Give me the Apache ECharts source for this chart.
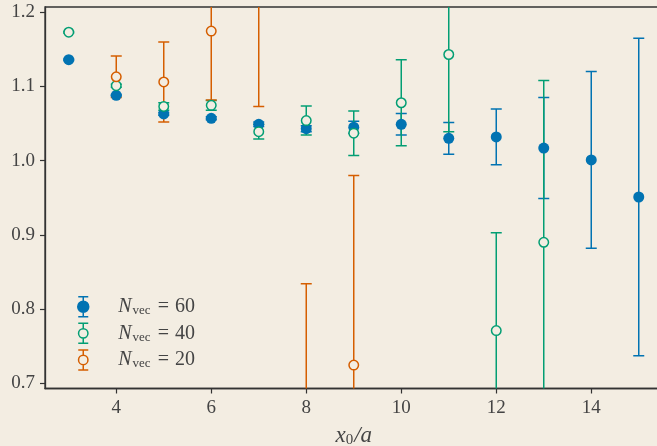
<!DOCTYPE html>
<html>
<head>
<meta charset="utf-8">
<script src="https://cdn.jsdelivr.net/npm/echarts@6/dist/echarts.min.js"></script>
<style>html,body{margin:0;padding:0;background:#f3ede2;overflow:hidden;width:657px;height:446px;}#c{width:663px;height:446px;}</style>
</head>
<body>
<div id="c"></div>
<script>
// x0/a values, effective mass values and errors
const x60 = [3,4,5,6,7,8,9,10,11,12,13,14,15];
const y60 = [1.136,1.088,1.063,1.057,1.049,1.043,1.045,1.049,1.030,1.032,1.017,1.001,0.951];
const e60 = [0.001,0.001,0.002,0.002,0.003,0.004,0.008,0.0145,0.0215,0.0375,0.068,0.119,0.214];

const x40 = [3,4,5,6,7,8,9,10,11,12,13];
const y40 = [1.173,1.101,1.073,1.0745,1.039,1.054,1.037,1.078,1.143,0.771,0.890];
const e40 = [0.001,0.002,0.005,0.0065,0.010,0.0195,0.030,0.058,0.104,0.132,0.218];

const x20 = [4,5,6,7,8,9];
const y20 = [1.113,1.106,1.1746,1.26,0.62,0.7245];
const e20 = [0.028,0.054,0.093,0.187,0.214,0.2555];

const xTicks = [4,6,8,10,12,14];
const yTicks = [0.7,0.8,0.9,1.0,1.1,1.2];

const BG = '#f3ede2';
const C60 = '#0173b2', C40 = '#029e73', C20 = '#d55e00';
const SERIF = '"Liberation Serif","DejaVu Serif",serif';
const TXT = '#444';

function zip(xs, ys, es){ return xs.map((x,i)=>[x, ys[i], es[i]]); }

function errRender(color){
  return function(params, api){
    const x = api.value(0), y = api.value(1), e = api.value(2);
    const t = api.coord([x, y + e]), b = api.coord([x, y - e]);
    const cw = 5.5;
    const st = {stroke: color, lineWidth: 1.5};
    return {type:'group', children:[
      {type:'line', shape:{x1:t[0], y1:t[1], x2:b[0], y2:b[1]}, style:st},
      {type:'line', shape:{x1:t[0]-cw, y1:t[1], x2:t[0]+cw, y2:t[1]}, style:st},
      {type:'line', shape:{x1:b[0]-cw, y1:b[1], x2:b[0]+cw, y2:b[1]}, style:st}
    ]};
  };
}

const N60 = 'Nvec = 60', N40 = 'Nvec = 40', N20 = 'Nvec = 20';
const iconFilled = 'path://M0 0L10 0M5 0L5 20M0 20L10 20M10.5 10A5.5 5.5 0 1 1 -0.5 10A5.5 5.5 0 1 1 10.5 10Z';
const iconOpen = 'path://M0 0L10 0M5 0L5 5.3M5 14.7L5 20M0 20L10 20M9.7 10A4.7 4.7 0 1 1 0.3 10A4.7 4.7 0 1 1 9.7 10Z';

function errSeries(name, data, color){
  return {type:'custom', name:name, data:data, encode:{x:0,y:1}, clip:true,
    renderItem: errRender(color), silent:true, z:2};
}
function ptSeries(name, data, color, filled){
  return {type:'scatter', name:name, data:data.map(d=>[d[0],d[1]]), clip:true, z:3,
    symbol:'circle', symbolSize: filled ? 11 : 9.5,
    itemStyle: filled ? {color:color, opacity:1} : {color:BG, borderColor:color, borderWidth:1.5, opacity:1}};
}

const d60 = zip(x60,y60,e60), d40 = zip(x40,y40,e40), d20 = zip(x20,y20,e20);

const chart = echarts.init(document.getElementById('c'), null, {renderer:'canvas'});
chart.setOption({
  backgroundColor: BG,
  animation: false,
  grid: {left:45, top:7, right:0.5, bottom:57.5, outerBoundsMode:'none', containLabel:false,
    show:true, borderColor:'#333', borderWidth:1.3, backgroundColor:BG},
  xAxis: {
    type:'value', min:2.5, max:15.5,
    name:'{i|x}{s|0}{i|/a}', nameLocation:'middle', nameGap:35,
    nameTextStyle:{rich:{
      i:{fontFamily:SERIF, fontStyle:'italic', fontSize:23, color:TXT},
      s:{fontFamily:SERIF, fontSize:15, color:TXT, padding:[9,1,0,0]}
    }},
    splitLine:{show:false},
    axisLine:{show:true, lineStyle:{color:'#333', width:1.3}},
    axisTick:{show:true, length:5, customValues:xTicks, lineStyle:{color:'#333', width:1.2}},
    axisLabel:{customValues:xTicks, fontFamily:SERIF, fontSize:19, color:TXT, margin:10}
  },
  yAxis: {
    type:'value', min:0.693, max:1.207,
    splitLine:{show:false},
    axisLine:{show:true, lineStyle:{color:'#333', width:1.3}},
    axisTick:{show:true, length:5, customValues:yTicks, lineStyle:{color:'#333', width:1.2}},
    axisLabel:{customValues:yTicks, fontFamily:SERIF, fontSize:19, color:TXT, margin:10,
      formatter:v=>v.toFixed(1)}
  },
  legend: {
    orient:'vertical', left:72, top:291, itemWidth:60, itemHeight:20, itemGap:5.1,
    selectedMode:false,
    data:[
      {name:N60, icon:iconFilled, itemStyle:{color:C60, borderColor:C60, borderWidth:1.5}},
      {name:N40, icon:iconOpen, itemStyle:{color:BG, borderColor:C40, borderWidth:1.5}},
      {name:N20, icon:iconOpen, itemStyle:{color:BG, borderColor:C20, borderWidth:1.5}}
    ],
    formatter: function(name){ return '{i|N}{s|vec}{e|=}{t|' + name.slice(7) + '}'; },
    textStyle:{rich:{
      i:{fontFamily:SERIF, fontStyle:'italic', fontSize:20, color:TXT, lineHeight:20},
      s:{fontFamily:SERIF, fontSize:13, color:TXT, padding:[8,1,0,1], lineHeight:12},
      e:{fontFamily:SERIF, fontSize:20, color:TXT, padding:[0,6,0,6], lineHeight:20},
      t:{fontFamily:SERIF, fontSize:20, color:TXT, lineHeight:20}
    }}
  },
  series: [
    errSeries(N60, d60, C60), errSeries(N40, d40, C40), errSeries(N20, d20, C20),
    ptSeries(N60, d60, C60, true), ptSeries(N40, d40, C40, false), ptSeries(N20, d20, C20, false)
  ]
});
</script>
</body>
</html>
